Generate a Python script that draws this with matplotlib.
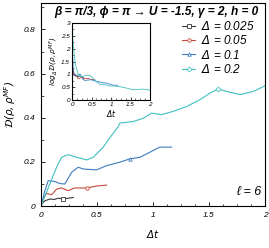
import numpy as np
import matplotlib
matplotlib.use("Agg")
import matplotlib.pyplot as plt
from matplotlib.ticker import MultipleLocator

plt.rcParams['font.family'] = ['Liberation Sans', 'DejaVu Sans']
plt.rcParams['font.style'] = 'italic'
plt.rcParams['mathtext.fontset'] = 'dejavusans'
plt.rcParams['mathtext.default'] = 'it'

# datos
deltas = [0.025, 0.05, 0.1, 0.2]
labels = [r"$\Delta$ = 0.025", r"$\Delta$ = 0.05", r"$\Delta$ = 0.1", r"$\Delta$ = 0.2"]
colores = ["#3a3a3a", "#c5493c", "#3d7cc0", "#42bfbf"]
marcadores = ["s", "o", "^", "D"]

t_0025 = [0.0, 0.01, 0.036, 0.08, 0.12, 0.155, 0.2, 0.25, 0.29]
D_0025 = [0.0, 0.012, 0.024, 0.032, 0.030, 0.036, 0.032, 0.036, 0.039]

t_005 = [0.0, 0.01, 0.05, 0.095, 0.14, 0.185, 0.244, 0.30, 0.408, 0.497, 0.586]
D_005 = [0.0, 0.02, 0.058, 0.051, 0.077, 0.082, 0.070, 0.082, 0.082, 0.091, 0.095]

t_01 = [0.0, 0.01, 0.03, 0.065, 0.12, 0.17, 0.214, 0.274, 0.333, 0.378, 0.497, 0.586,
        0.705, 0.795, 0.884, 0.973, 1.06, 1.167]
D_01 = [0.0, 0.015, 0.06, 0.115, 0.112, 0.102, 0.100, 0.153, 0.176, 0.168, 0.164, 0.183,
        0.199, 0.214, 0.221, 0.244, 0.267, 0.267]

t_02 = [0.0, 0.005, 0.02, 0.08, 0.14, 0.185, 0.244, 0.319, 0.41, 0.467, 0.556, 0.631,
        0.69, 0.705, 0.824, 0.914, 0.988, 1.077, 1.18, 1.30, 1.42, 1.51, 1.58, 1.69,
        1.78, 1.90, 2.0]
D_02 = [0.0, 0.008, 0.025, 0.10, 0.176, 0.221, 0.233, 0.221, 0.209, 0.221, 0.267, 0.32,
        0.36, 0.376, 0.383, 0.398, 0.421, 0.414, 0.429, 0.451, 0.482, 0.512, 0.530, 0.515,
        0.505, 0.520, 0.545]

tiempos = [t_0025, t_005, t_01, t_02]
Ds = [D_0025, D_005, D_01, D_02]
marca_t = [0.2, 0.408, 0.795, 1.58]

fig = plt.figure(figsize=(2.69, 2.48), dpi=100)
ax = fig.add_axes([0.152, 0.169, 0.833, 0.819])

for t, D, c, m, lab, tm in zip(tiempos, Ds, colores, marcadores, labels, marca_t):
    t = np.array(t)
    idx = [int(np.argmin(np.abs(t - tm)))]
    ax.plot(t, D, color=c, lw=0.8, marker=m, ms=2.5, mfc="white", mew=0.6,
            markevery=idx, label=lab)

ax.set_xlim(0, 2)
ax.set_ylim(0, 0.92)
ax.set_xticks([0, 0.5, 1, 1.5, 2])
ax.set_xticklabels(["0", "0.5", "1", "1.5", "2"])
ax.xaxis.set_minor_locator(MultipleLocator(0.125))
ax.set_yticks([0, 0.2, 0.4, 0.6, 0.8])
ax.set_yticklabels(["0", "0.2", "0.4", "0.6", "0.8"])
ax.yaxis.set_minor_locator(MultipleLocator(0.1))
ax.tick_params(which="both", direction="in", labelsize=6, top=False, right=False)
ax.tick_params(which="major", length=3, width=0.6, pad=4)
ax.tick_params(which="minor", length=1.8, width=0.5)
for s in ax.spines.values():
    s.set_linewidth(0.8)
ax.set_xlabel(r"$\Delta t$", fontsize=7.5, labelpad=7)
ax.set_ylabel(r"$\mathcal{D}(\rho,\rho^{MF})$", fontsize=7.5, labelpad=4)

ax.text(0.515, 0.985, "β = π/3, ϕ = π → U = -1.5, γ = 2, h = 0", transform=ax.transAxes,
        ha="center", va="top", fontsize=8.6, fontweight="bold")
ax.text(0.985, 0.04, "ℓ = 6", transform=ax.transAxes, ha="right", va="bottom", fontsize=9)

leg = ax.legend(loc="upper right", bbox_to_anchor=(0.985, 0.95), frameon=False, fontsize=8.5,
                handlelength=1.1, handletextpad=0.5, labelspacing=0.1, borderaxespad=0.2)

# inset: log_Delta D
ins = fig.add_axes([0.268, 0.597, 0.29, 0.31])
for t, D, c, d in zip(tiempos, Ds, colores, deltas):
    t = np.array(t)
    D = np.array(D)
    ok = D > 0
    ins.plot(t[ok], np.log(D[ok]) / np.log(d), color=c, lw=0.6)
ins.set_xlim(0, 2)
ins.set_ylim(0, 3)
ins.set_xticks([0, 0.5, 1, 1.5, 2])
ins.set_xticklabels(["0", "0.5", "1", "1.5", "2"])
ins.set_yticks([0, 0.5, 1, 1.5, 2, 2.5, 3])
ins.set_yticklabels(["0", "0.5", "1", "1.5", "2", "2.5", "3"])
ins.xaxis.set_minor_locator(MultipleLocator(0.125))
ins.yaxis.set_minor_locator(MultipleLocator(0.25))
ins.tick_params(which="both", direction="in", labelsize=4.6, pad=1.5)
ins.tick_params(which="major", length=2, width=0.5)
ins.tick_params(which="minor", length=1.2, width=0.4)
for s in ins.spines.values():
    s.set_linewidth(0.8)
ins.set_xlabel(r"$\Delta t$", fontsize=5.5, labelpad=1)
ins.set_ylabel(r"$\log_\Delta\mathcal{D}(\rho,\rho^{MF})$", fontsize=5.2, labelpad=1)

fig.savefig("out.png", dpi=100)
